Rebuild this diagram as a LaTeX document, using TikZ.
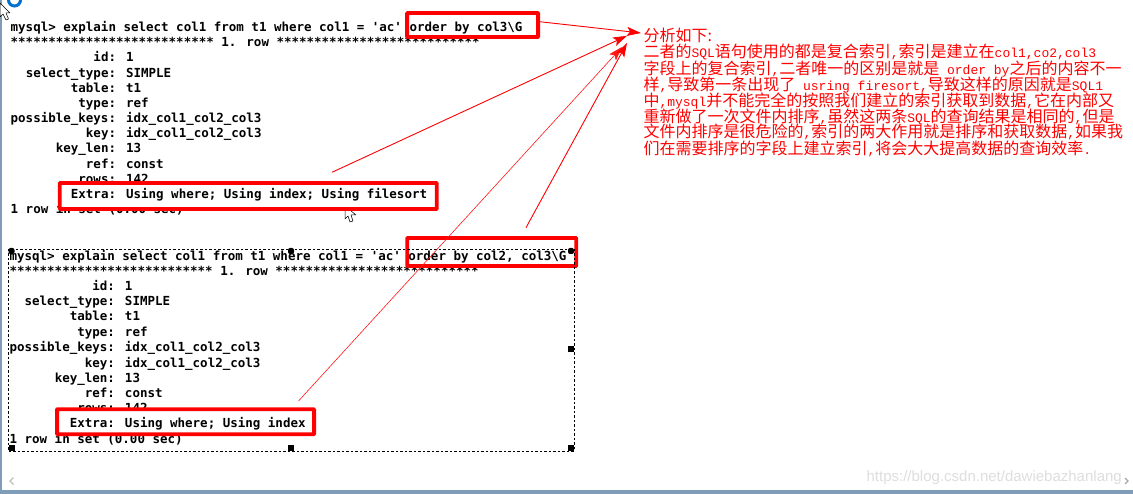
\documentclass[tikz,border=0pt]{standalone}
\usepackage{fontspec}
\usetikzlibrary{arrows.meta}
\newfontfamily\termfont{DejaVu Sans Mono}[FontFace={b}{n}{DejaVu Sans Mono Bold}]
\newfontfamily\cjkfont{Noto Sans CJK SC}
\newfontfamily\latfont{Liberation Mono}
\newfontfamily\wmfont{Liberation Sans}
\newcommand{\lt}[1]{{\latfont\fontsize{13}{13}\selectfont #1}}
\definecolor{framec}{HTML}{7F9DB9}
\tikzset{
  term/.style={anchor=base west,inner sep=0pt,outer sep=0pt,font=\termfont\bfseries\fontsize{12.5}{14}\selectfont,text=black},
  redbox/.style={draw=red,line width=3.8pt,rounded corners=0.6pt,inner sep=0pt},
  note/.style={anchor=base west,inner sep=0pt,outer sep=0pt,text=red,font=\cjkfont\fontsize{16}{16}\selectfont},
  link/.style={draw=red,line width=0.9pt,-{Stealth[length=14pt,width=9pt,inset=3pt]}},
  thinlink/.style={draw=red!90,line width=0.6pt,-{Stealth[length=14pt,width=9pt,inset=3pt]}},
  handle/.style={fill=black,draw=none,minimum size=6pt,inner sep=0pt},
  cursor/.style={fill=white,draw=black,line width=0.5pt,line join=round}
}
\begin{document}
\begin{tikzpicture}[x=1pt,y=-1pt]
\useasboundingbox (0,0) rectangle (1133,494);
\fill[white] (0,0) rectangle (1133,494);
% window frame
\fill[framec] (0,0) rectangle (2,490);
\fill[framec] (0,490) rectangle (1133,494);
\draw[line width=3pt,color=blue!45!cyan!80!black] (14.5,0) circle (6pt);
\draw[cursor] (0,3) -- (0,17) -- (3,14) -- (6,20) -- (8.5,19) -- (6,13) -- (10,13) -- cycle;
\draw[cursor] (345,206) -- (345,219) -- (348,216) -- (350,222) -- (353,221) -- (351,215) -- (356,215) -- cycle;
% first terminal block
\node[term] (a1) at (10.7,32) {mysql> explain select col1 from t1 where col1 = 'ac' order by col3\textbackslash G};
\node[term] (a2) at (10.7,47) {*************************** 1. row ***************************};
\node[term] (a3) at (10.7,62) {~~~~~~~~~~~id: 1};
\node[term] (a4) at (10.7,77.5) {~~select\_type: SIMPLE};
\node[term] (a5) at (10.7,92.5) {~~~~~~~~table: t1};
\node[term] (a6) at (10.7,108) {~~~~~~~~~type: ref};
\node[term] (a7) at (10.7,123) {possible\_keys: idx\_col1\_col2\_col3};
\node[term] (a8) at (10.7,138) {~~~~~~~~~~key: idx\_col1\_col2\_col3};
\node[term] (a9) at (10.7,153) {~~~~~~key\_len: 13};
\node[term] (a10) at (10.7,168.5) {~~~~~~~~~~ref: const};
\node[term] (a11) at (10.7,183.5) {~~~~~~~~~rows: 142};
\node[term] (a13) at (10.7,214) {1 row in set (0.00 sec)};
\node[redbox,fill=white,minimum width=377pt,minimum height=26pt] (b2) at (248.2,196) {};
\node[term] (a12) at (10.7,199) {~~~~~~~~Extra: Using where; Using index; Using filesort};
\node[redbox,minimum width=131pt,minimum height=24pt] (b1) at (472.6,25) {};
% second terminal block
\node[term] (c1) at (9.6,260.7) {mysql> explain select col1 from t1 where col1 = 'ac' order by col2, col3\textbackslash G};
\node[term] (c2) at (9.6,276) {*************************** 1. row ***************************};
\node[term] (c3) at (9.6,291) {~~~~~~~~~~~id: 1};
\node[term] (c4) at (9.6,306) {~~select\_type: SIMPLE};
\node[term] (c5) at (9.6,321) {~~~~~~~~table: t1};
\node[term] (c6) at (9.6,336.5) {~~~~~~~~~type: ref};
\node[term] (c7) at (9.6,352) {possible\_keys: idx\_col1\_col2\_col3};
\node[term] (c8) at (9.6,367) {~~~~~~~~~~key: idx\_col1\_col2\_col3};
\node[term] (c9) at (9.6,382) {~~~~~~key\_len: 13};
\node[term] (c10) at (9.6,397.5) {~~~~~~~~~~ref: const};
\node[term] (c11) at (9.6,413) {~~~~~~~~~rows: 142};
\node[term] (c13) at (9.6,443) {1 row in set (0.00 sec)};
\node[redbox,fill=white,minimum width=257pt,minimum height=25pt] (b4) at (185.6,421.7) {};
\node[term] (c12) at (9.6,428) {~~~~~~~~Extra: Using where; Using index};
\node[redbox,minimum width=169pt,minimum height=28pt] (b3) at (491.8,252) {};
% selection frame
\draw[black,line width=0.7pt,dash pattern=on 2.5pt off 2pt] (8.4,249) rectangle (574,451);
\node[handle,rounded corners=2pt] (h1) at (11.5,251) {};
\node[handle,rounded corners=2pt] (h2) at (291,251) {};
\node[handle,rounded corners=2pt] (h3) at (571,251) {};
\node[handle] (h4) at (571,349.3) {};
\node[handle] (h5) at (11.5,448) {};
\node[handle] (h6) at (291,448) {};
\node[handle] (h7) at (571,448) {};
% notes
\node[note] (n1) at (643.5,41.5) {分析如下:};
\node[note] (n2) at (643.5,58) {二者的\lt{SQL}语句使用的都是复合索引\lt{,}索引是建立在\lt{col1,co2,col3}};
\node[note] (n3) at (643.5,74.5) {字段上的复合索引\lt{,}二者唯一的区别是就是\lt{ order by}之后的内容不一};
\node[note] (n4) at (643.5,91) {样\lt{,}导致第一条出现了\lt{ usring firesort,}导致这样的原因就是\lt{SQL1}};
\node[note] (n5) at (643.5,106.5) {中\lt{,mysql}并不能完全的按照我们建立的索引获取到数据\lt{,}它在内部又};
\node[note] (n6) at (643.5,123) {重新做了一次文件内排序\lt{,}虽然这两条\lt{SQL}的查询结果是相同的\lt{,}但是};
\node[note] (n7) at (643.5,138) {文件内排序是很危险的\lt{,}索引的两大作用就是排序和获取数据\lt{,}如果我};
\node[note] (n8) at (643.5,154.5) {们在需要排序的字段上建立索引\lt{,}将会大大提高数据的查询效率\lt{.}};
% connectors
\coordinate (s1) at (539.6,21.7);
\coordinate (t1) at (641,33);
\coordinate (s2) at (332,172.3);
\coordinate (t2) at (627,35.8);
\coordinate (s3) at (298.5,401);
\coordinate (t3) at (622,47);
\coordinate (s4) at (526,227.7);
\coordinate (t4) at (627,43);
\draw[link] (s1) -- (t1);
\draw[link] (s2) -- (t2);
\draw[thinlink] (s3) -- (t3);
\draw[link] (s4) -- (t4);
% decorations
\node[anchor=base east,inner sep=0pt,text=black!13,font=\wmfont\fontsize{15}{16}\selectfont] (w) at (1122,481) {https://blog.csdn.net/dawiebazhanlang};
\draw[black!25,line width=1.2pt] (13.5,477.5) -- (10,481) -- (13.5,484.5);
\draw[black!35,line width=1.2pt] (1125,478) -- (1128,481) -- (1125,484);
\end{tikzpicture}
\end{document}
